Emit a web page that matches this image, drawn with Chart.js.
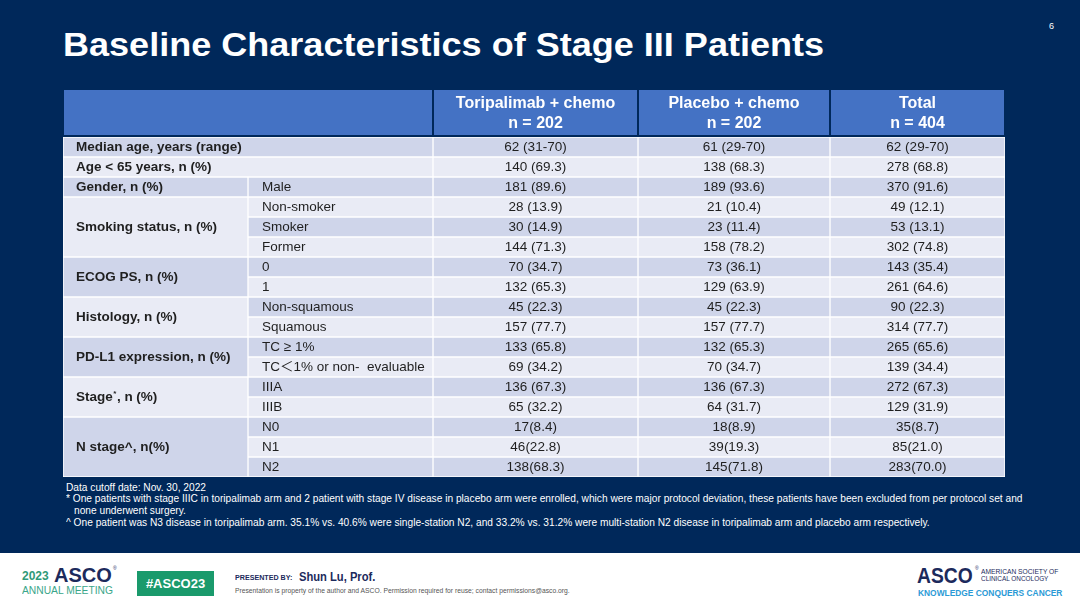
<!DOCTYPE html>
<html>
<head>
<meta charset="utf-8">
<script src="https://cdn.jsdelivr.net/npm/chart.js@4.4.0/dist/chart.umd.min.js"></script>
<style>
  body { margin: 0; width: 1080px; height: 610px; overflow: hidden; background: #fff;
         font-family: "Liberation Sans", Arial, sans-serif; }
  #slide { position: absolute; left: 0; top: 0; width: 1080px; height: 553px; background: #00285a; }
  .t { position: absolute; white-space: nowrap; line-height: 1; transform-origin: 0 0; }
  #table { position: absolute; left: 62px; top: 89px; }
  #notes .t { color: #fff; font-size: 10.5px; }
</style>
</head>
<body>
<div id="slide">
  <div class="t" id="title" data-w="761" style="left:63px;top:27px;font-size:34px;font-weight:bold;color:#fff">Baseline Characteristics of Stage III Patients</div>
  <div class="t" style="left:1049px;top:22px;font-size:9px;color:#fff">6</div>
  <canvas id="table" width="945" height="389"></canvas>
  <div id="notes">
    <div class="t" style="left:66px;top:482px">Data cutoff date: Nov. 30, 2022</div>
    <div class="t" style="left:66px;top:493px">* One patients with stage IIIC in toripalimab arm and 2 patient with stage IV disease in placebo arm were enrolled, which were major protocol deviation, these patients have been excluded from per protocol set and</div>
    <div class="t" style="left:74px;top:504.5px">none underwent surgery.</div>
    <div class="t" id="lastNote" style="left:66px;top:517px">^ One patient was N3 disease in toripalimab arm. 35.1% vs. 40.6% were single-station N2, and 33.2% vs. 31.2% were multi-station N2 disease in toripalimab arm and placebo arm respectively.</div>
  </div>
</div>

<!-- footer -->
<div class="t" style="left:22px;top:570px;font-size:12px;font-weight:bold;color:#2f9a78">2023</div>
<div class="t" data-w="58" style="left:54px;top:565px;font-size:20px;font-weight:bold;color:#1c2a5c">ASCO</div>
<div class="t" style="left:113px;top:566px;font-size:5px;color:#1c2a5c">®</div>
<div class="t" data-w="91" style="left:22px;top:585px;font-size:10.5px;color:#3aa68a">ANNUAL MEETING</div>
<div style="position:absolute;left:137px;top:571px;width:77px;height:25px;background:#1a9a6c;color:#fff;font-weight:bold;font-size:13px;line-height:25px;text-align:center">#ASCO23</div>
<div class="t" data-w="57" style="left:235px;top:574px;font-size:7px;font-weight:bold;color:#1c2a5c">PRESENTED BY:</div>
<div class="t" data-w="76" style="left:299px;top:571px;font-size:12.5px;font-weight:bold;color:#1c2a5c">Shun Lu, Prof.</div>
<div class="t" data-w="335" style="left:235px;top:588px;font-size:6.5px;color:#555">Presentation is property of the author and ASCO. Permission required for reuse; contact permissions@asco.org.</div>
<div class="t" data-w="56" style="left:917px;top:565px;font-size:22px;font-weight:bold;color:#1c2a5c">ASCO</div>
<div class="t" style="left:975px;top:566px;font-size:5px;color:#1c2a5c">®</div>
<div class="t" data-w="77" style="left:981px;top:569px;font-size:6.5px;color:#1c2a5c">AMERICAN SOCIETY OF</div>
<div class="t" data-w="67" style="left:981px;top:576px;font-size:6.5px;color:#1c2a5c">CLINICAL ONCOLOGY</div>
<div class="t" data-w="144" style="left:918px;top:589px;font-size:8.5px;font-weight:bold;color:#2b9ad6">KNOWLEDGE CONQUERS CANCER</div>

<script>
// table contents
const groupLabels = ['Median age, years (range)', 'Age < 65 years, n (%)', 'Gender, n (%)', 'Smoking status, n (%)',
  'ECOG PS, n (%)', 'Histology, n (%)', 'PD-L1 expression, n (%)', 'Stage*, n (%)', 'N stage^, n(%)'];
const groupSizes = [1, 1, 1, 3, 2, 2, 2, 2, 3];
const subLabels = ['', '', 'Male', 'Non-smoker', 'Smoker', 'Former', '0', '1', 'Non-squamous', 'Squamous',
  'TC ≥ 1%', 'TC＜1% or non-  evaluable', 'IIIA', 'IIIB', 'N0', 'N1', 'N2'];
const armNames = ['Toripalimab + chemo', 'Placebo + chemo', 'Total'];
const armN = ['n = 202', 'n = 202', 'n = 404'];
const toripalimab = ['62 (31-70)', '140 (69.3)', '181 (89.6)', '28 (13.9)', '30 (14.9)', '144 (71.3)', '70 (34.7)',
  '132 (65.3)', '45 (22.3)', '157 (77.7)', '133 (65.8)', '69 (34.2)', '136 (67.3)', '65 (32.2)', '17(8.4)', '46(22.8)', '138(68.3)'];
const placebo = ['61 (29-70)', '138 (68.3)', '189 (93.6)', '21 (10.4)', '23 (11.4)', '158 (78.2)', '73 (36.1)',
  '129 (63.9)', '45 (22.3)', '157 (77.7)', '132 (65.3)', '70 (34.7)', '136 (67.3)', '64 (31.7)', '18(8.9)', '39(19.3)', '145(71.8)'];
const total = ['62 (29-70)', '278 (68.8)', '370 (91.6)', '49 (12.1)', '53 (13.1)', '302 (74.8)', '143 (35.4)',
  '261 (64.6)', '90 (22.3)', '314 (77.7)', '265 (65.6)', '139 (34.4)', '272 (67.3)', '129 (31.9)', '35(8.7)', '85(21.0)', '283(70.0)'];
const armValues = [toripalimab, placebo, total];

// layout: column edges in px from table left
const COL = [0, 185, 370, 575, 767, 942];
const DARK = '#cfd5ea', LIGHT = '#e9ebf5', HEAD = '#4472c4', INK = '#1f1f1f';

// which group each row belongs to
const rowGroup = [];
groupSizes.forEach((n, g) => { for (let k = 0; k < n; k++) rowGroup.push(g); });
const groupFirst = groupSizes.map((n, g) => rowGroup.indexOf(g));
const rowShade = i => i % 2 === 0 ? DARK : LIGHT;

const datasets = [
  {
    data: subLabels.map(s => s === '' ? [COL[0], COL[2]] : [COL[0], COL[1]]),
    backgroundColor: c => rowGroup[c.dataIndex] % 2 === 0 ? DARK : LIGHT,
    borderWidth: c => {
      const g = rowGroup[c.dataIndex];
      const first = groupFirst[g] === c.dataIndex;
      const last = groupFirst[g] + groupSizes[g] - 1 === c.dataIndex;
      return { top: first ? 1 : 0, bottom: last ? 1 : 0, left: 1, right: 1 };
    }
  },
  { data: subLabels.map(s => s === '' ? null : [COL[1], COL[2]]), backgroundColor: c => rowShade(c.dataIndex) }
];
armValues.forEach((vals, k) => {
  datasets.push({ data: vals.map(() => [COL[k + 2], COL[k + 3]]), backgroundColor: c => rowShade(c.dataIndex) });
});

const tableText = {
  id: 'tableText',
  beforeDatasetsDraw(chart) {
    const { ctx, chartArea, scales: { x } } = chart;
    const top = 1, bottom = chartArea.top - 2;
    const cells = [[COL[0], COL[2]], [COL[2], COL[3]], [COL[3], COL[4]], [COL[4], COL[5]]];
    ctx.save();
    cells.forEach(([a, b]) => {
      const x0 = x.getPixelForValue(a), x1 = x.getPixelForValue(b);
      ctx.fillStyle = HEAD;
      ctx.fillRect(x0 + 1, top, x1 - x0 - 2, bottom - top);
    });
    ctx.fillStyle = '#fff';
    ctx.font = 'bold 16px "Liberation Sans", Arial, sans-serif';
    ctx.textAlign = 'center';
    ctx.textBaseline = 'middle';
    armNames.forEach((name, k) => {
      const cx = x.getPixelForValue((COL[k + 2] + COL[k + 3]) / 2);
      ctx.fillText(name, cx, 14.5);
      ctx.fillText(armN[k], cx, 34.5);
    });
    ctx.restore();
  },
  afterDatasetsDraw(chart) {
    const { ctx, scales: { x, y } } = chart;
    ctx.save();
    ctx.fillStyle = INK;
    ctx.textBaseline = 'middle';
    const body = '13.5px "Liberation Sans", Arial, "Noto Sans CJK SC", sans-serif';
    const bold = 'bold 13.5px "Liberation Sans", Arial, sans-serif';
    subLabels.forEach((s, i) => {
      const py = y.getPixelForValue(i) + 0.5;
      ctx.font = body;
      ctx.textAlign = 'left';
      if (s) ctx.fillText(s, x.getPixelForValue(COL[1]) + 14, py);
      ctx.textAlign = 'center';
      armValues.forEach((vals, k) => {
        ctx.fillText(vals[i], x.getPixelForValue((COL[k + 2] + COL[k + 3]) / 2), py);
      });
    });
    ctx.textAlign = 'left';
    groupLabels.forEach((label, g) => {
      const a = groupFirst[g], b = a + groupSizes[g] - 1;
      const py = (y.getPixelForValue(a) + y.getPixelForValue(b)) / 2 + 0.5;
      let px = x.getPixelForValue(COL[0]) + 13;
      const parts = label.split('*');
      ctx.font = bold;
      ctx.fillText(parts[0], px, py);
      if (parts.length > 1) {
        px += ctx.measureText(parts[0]).width;
        ctx.font = 'bold 8px "Liberation Sans", Arial, sans-serif';
        ctx.fillText('*', px + 0.5, py - 4);
        px += ctx.measureText('*').width + 1;
        ctx.font = bold;
        ctx.fillText(parts[1], px, py);
      }
    });
    ctx.restore();
  }
};

new Chart(document.getElementById('table'), {
  type: 'bar',
  data: { labels: subLabels.map((s, i) => String(i)), datasets },
  options: {
    indexAxis: 'y',
    responsive: false,
    animation: false,
    events: [],
    layout: { padding: { left: 1, right: 2, top: 48, bottom: 1 } },
    datasets: { bar: { grouped: false, categoryPercentage: 1, barPercentage: 1, borderSkipped: false,
                       borderColor: '#fff', borderWidth: 1 } },
    plugins: { legend: { display: false }, tooltip: { enabled: false } },
    scales: {
      x: { type: 'linear', min: COL[0], max: COL[COL.length - 1], display: false },
      y: { display: false }
    }
  },
  plugins: [tableText]
});

// squeeze text to the widths seen on the slide
function fitText() {
  document.querySelectorAll('[data-w]').forEach(el => {
    el.style.transform = 'scaleX(' + (el.dataset.w / el.offsetWidth) + ')';
  });
  const last = document.getElementById('lastNote');
  const s = 864 / last.offsetWidth;
  document.querySelectorAll('#notes .t').forEach(el => { el.style.transform = 'scaleX(' + s + ')'; });
}
fitText();
</script>
</body>
</html>
